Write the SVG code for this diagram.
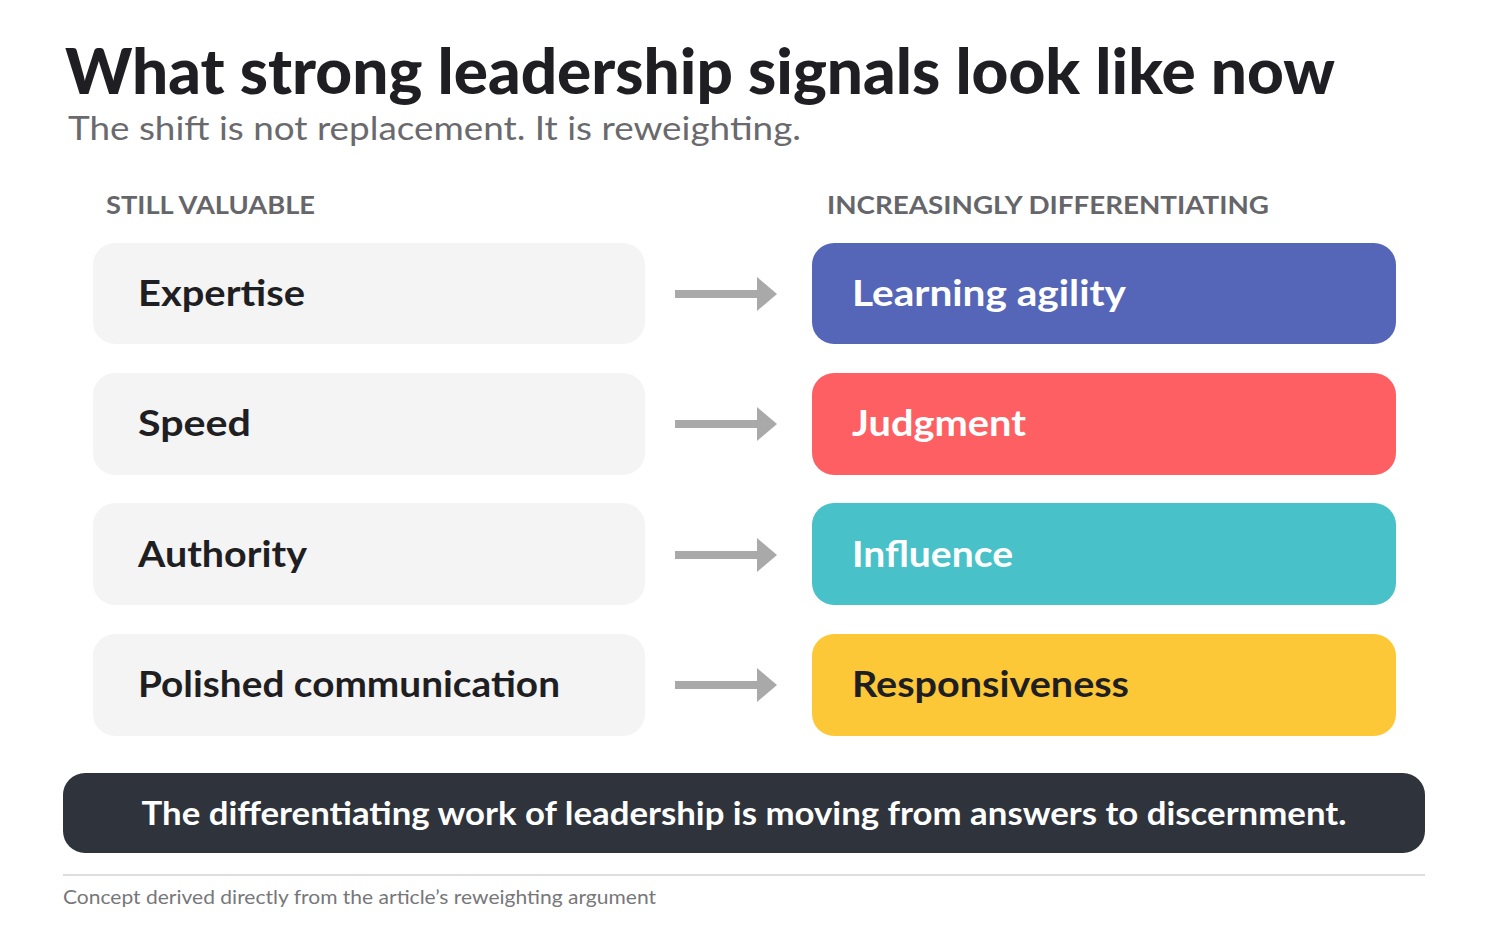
<svg xmlns="http://www.w3.org/2000/svg" width="1488" height="930" viewBox="0 0 1488 930">
<defs>
<style>
text{font-family:Lato,"Liberation Sans",sans-serif}
.title{font-size:62px;font-weight:900;fill:#1f1f23}
.sub{font-size:32px;fill:#6a6a6e}
.col{font-size:24px;font-weight:700;fill:#66666a}
.lbox{fill:#f4f4f4}
.ltxt{font-size:36px;font-weight:700;fill:#1f1f23}
.rtxt{font-size:36px;font-weight:700;fill:#ffffff}
.arrow{stroke:#a9a9a9;stroke-width:8;fill:none}
.head{fill:#a9a9a9}
</style>
<marker id="ah" viewBox="0 0 20 34" refX="0" refY="17" markerWidth="20" markerHeight="34" markerUnits="userSpaceOnUse" orient="auto"><path d="M0,0 L20,17 L0,34 Z" class="head"/></marker>
</defs>
<rect width="1488" height="930" fill="#ffffff"/>
<text class="title" x="65" y="94" textLength="1270" lengthAdjust="spacingAndGlyphs">What strong leadership signals look like now</text>
<text class="sub" x="68" y="140" textLength="733" lengthAdjust="spacingAndGlyphs">The shift is not replacement. It is reweighting.</text>
<text class="col" x="106" y="214" textLength="209" lengthAdjust="spacingAndGlyphs">STILL VALUABLE</text>
<text class="col" x="827" y="214" textLength="442" lengthAdjust="spacingAndGlyphs">INCREASINGLY DIFFERENTIATING</text>

<g id="left-expertise"><rect class="lbox" x="93" y="243" width="552" height="101" rx="22"/><text class="ltxt" x="138" y="306" textLength="167" lengthAdjust="spacingAndGlyphs">Expertise</text></g>
<g id="left-speed"><rect class="lbox" x="93" y="373" width="552" height="102" rx="22"/><text class="ltxt" x="138" y="436" textLength="113" lengthAdjust="spacingAndGlyphs">Speed</text></g>
<g id="left-authority"><rect class="lbox" x="93" y="503" width="552" height="102" rx="22"/><text class="ltxt" x="138" y="567" textLength="169" lengthAdjust="spacingAndGlyphs">Authority</text></g>
<g id="left-polished"><rect class="lbox" x="93" y="634" width="552" height="102" rx="22"/><text class="ltxt" x="138" y="697" textLength="422" lengthAdjust="spacingAndGlyphs">Polished communication</text></g>

<g id="right-learning"><rect x="812" y="243" width="584" height="101" rx="22" fill="#5566b8"/><text class="rtxt" x="852" y="306" textLength="274" lengthAdjust="spacingAndGlyphs">Learning agility</text></g>
<g id="right-judgment"><rect x="812" y="373" width="584" height="102" rx="22" fill="#fe5f63"/><text class="rtxt" x="852" y="436" textLength="174" lengthAdjust="spacingAndGlyphs">Judgment</text></g>
<g id="right-influence"><rect x="812" y="503" width="584" height="102" rx="22" fill="#48c2c8"/><text class="rtxt" x="852" y="567" textLength="161" lengthAdjust="spacingAndGlyphs">Influence</text></g>
<g id="right-responsiveness"><rect x="812" y="634" width="584" height="102" rx="22" fill="#fdc838"/><text class="rtxt" x="852" y="697" style="fill:#1f1f23" textLength="277" lengthAdjust="spacingAndGlyphs">Responsiveness</text></g>

<g id="connectors">
<line class="arrow" x1="675" y1="294" x2="757" y2="294" marker-end="url(#ah)"/>
<line class="arrow" x1="675" y1="424" x2="757" y2="424" marker-end="url(#ah)"/>
<line class="arrow" x1="675" y1="555" x2="757" y2="555" marker-end="url(#ah)"/>
<line class="arrow" x1="675" y1="685" x2="757" y2="685" marker-end="url(#ah)"/>
</g>

<g id="summary"><rect x="63" y="773" width="1362" height="80" rx="22" fill="#2f333b"/><text x="744" y="825" text-anchor="middle" style="font-size:32px;font-weight:700;fill:#ffffff" textLength="1205" lengthAdjust="spacingAndGlyphs">The differentiating work of leadership is moving from answers to discernment.</text></g>
<line x1="63" y1="875" x2="1425" y2="875" stroke="#dddddd" stroke-width="2"/>
<text x="63" y="904" style="font-size:19px;fill:#77777a" textLength="593" lengthAdjust="spacingAndGlyphs">Concept derived directly from the article’s reweighting argument</text>
</svg>
